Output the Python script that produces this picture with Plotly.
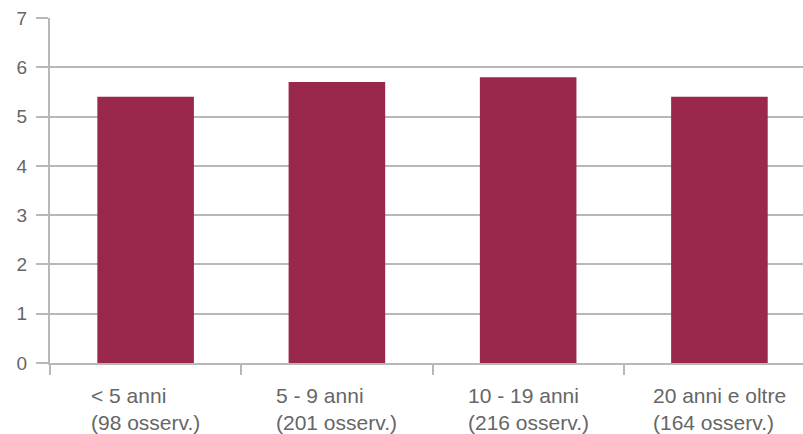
import plotly.graph_objects as go

# Age classes of the firms, with number of observations per class
categorie = ["< 5 anni", "5 - 9 anni", "10 - 19 anni", "20 anni e oltre"]
osservazioni = [98, 201, 216, 164]
valori = [5.4, 5.7, 5.8, 5.4]
y_ticks = [0, 1, 2, 3, 4, 5, 6, 7]

BAR = "#9a284b"
GRID = "#b8b8b8"
TEXT = "#666666"
FONT = "Liberation Sans, Arial, sans-serif"

fig = go.Figure(
    go.Bar(
        x=categorie,
        y=valori,
        width=0.505,
        marker=dict(color=BAR, line=dict(width=0)),
        hoverinfo="x+y",
    )
)

# Two-line category labels, left aligned inside each block
for cat, n in zip(categorie, osservazioni):
    fig.add_annotation(
        x=cat, xref="x",
        y=0, yref="paper",
        yanchor="top", xanchor="center",
        yshift=-19,
        text=f"{cat}<br>({n} osserv.)",
        align="left",
        showarrow=False,
        font=dict(family=FONT, size=21, color=TEXT),
    )

fig.update_layout(
    width=803, height=434,
    margin=dict(l=50, r=0, t=18, b=71),
    paper_bgcolor="white",
    plot_bgcolor="white",
    showlegend=False,
    font=dict(family=FONT, size=20, color=TEXT),
    xaxis=dict(
        type="category",
        range=[-0.5, 3.437],
        tickson="boundaries",
        ticks="outside",
        ticklen=10,
        tickwidth=2,
        tickcolor=GRID,
        showticklabels=False,
        showgrid=False,
        showline=True,
        linecolor=GRID,
        linewidth=2,
        zeroline=False,
    ),
    yaxis=dict(
        range=[0, 7],
        tickvals=y_ticks,
        ticks="outside",
        ticklen=12,
        tickwidth=2,
        tickcolor=GRID,
        ticklabelstandoff=5,
        showgrid=True,
        gridcolor=GRID,
        gridwidth=2,
        showline=True,
        linecolor=GRID,
        linewidth=2,
        zeroline=False,
        tickfont=dict(family=FONT, size=19, color=TEXT),
    ),
)

fig.write_html("out.html")
